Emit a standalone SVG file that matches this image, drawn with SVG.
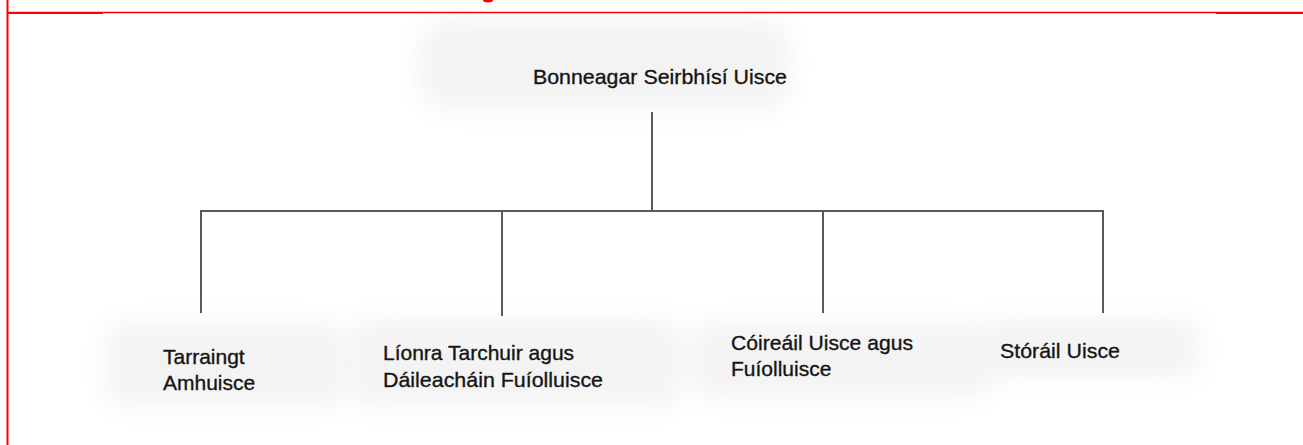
<svg xmlns="http://www.w3.org/2000/svg" width="1303" height="445" viewBox="0 0 1303 445">
<style>
.lbl{font-family:"Liberation Sans",Arial,sans-serif;font-size:21px;fill:#151515;stroke:#151515;stroke-width:0.35;}
.conn{stroke:#5a5a5a;stroke-width:2;fill:none;}
.frame{stroke:#ff0000;fill:none;}
.ghost{fill:#efefef;}
</style>
<defs>
<filter id="blur" x="-30%" y="-60%" width="160%" height="220%"><feGaussianBlur stdDeviation="12"/></filter>
</defs>
<rect x="0" y="0" width="1303" height="445" fill="#ffffff"/>
<g id="ghosts" filter="url(#blur)" opacity="0.7">
<rect class="ghost" x="420" y="20" width="370" height="90" rx="25"/>
<rect class="ghost" x="105" y="322" width="240" height="85" rx="20"/>
<rect class="ghost" x="350" y="318" width="330" height="90" rx="20"/>
<rect class="ghost" x="690" y="322" width="300" height="75" rx="20"/>
<rect class="ghost" x="980" y="318" width="220" height="60" rx="20"/>
</g>
<g id="frame">
<line class="frame" x1="7.5" y1="0" x2="7.5" y2="445" stroke-width="2"/>
<line class="frame" x1="8" y1="12.5" x2="1303" y2="12.5" stroke-width="1.3"/>
<line class="frame" x1="8" y1="13" x2="103" y2="13" stroke-width="2"/>
<line class="frame" x1="1216" y1="13" x2="1303" y2="13" stroke-width="2"/>
<ellipse cx="488" cy="0" rx="5" ry="2.5" fill="#ff0000"/>
</g>
<g id="connectors">
<line class="conn" x1="652" y1="112" x2="652" y2="212"/>
<line class="conn" x1="200" y1="211" x2="1104" y2="211"/>
<line class="conn" x1="201" y1="211" x2="201" y2="313"/>
<line class="conn" x1="502" y1="211" x2="502" y2="316"/>
<line class="conn" x1="823" y1="211" x2="823" y2="313"/>
<line class="conn" x1="1103" y1="211" x2="1103" y2="313"/>
</g>
<g id="root">
<text class="lbl" x="533" y="84" textLength="254" lengthAdjust="spacingAndGlyphs">Bonneagar Seirbhísí Uisce</text>
</g>
<g id="node-tarraingt">
<text class="lbl" x="163" y="364">Tarraingt</text>
<text class="lbl" x="163" y="390">Amhuisce</text>
</g>
<g id="node-lionra">
<text class="lbl" x="383" y="360">Líonra Tarchuir agus</text>
<text class="lbl" x="383" y="387" textLength="220" lengthAdjust="spacingAndGlyphs">Dáileacháin Fuíolluisce</text>
</g>
<g id="node-coireail">
<text class="lbl" x="731" y="350" textLength="182" lengthAdjust="spacingAndGlyphs">Cóireáil Uisce agus</text>
<text class="lbl" x="731" y="376">Fuíolluisce</text>
</g>
<g id="node-storail">
<text class="lbl" x="1000" y="358" textLength="120" lengthAdjust="spacingAndGlyphs">Stóráil Uisce</text>
</g>
</svg>
